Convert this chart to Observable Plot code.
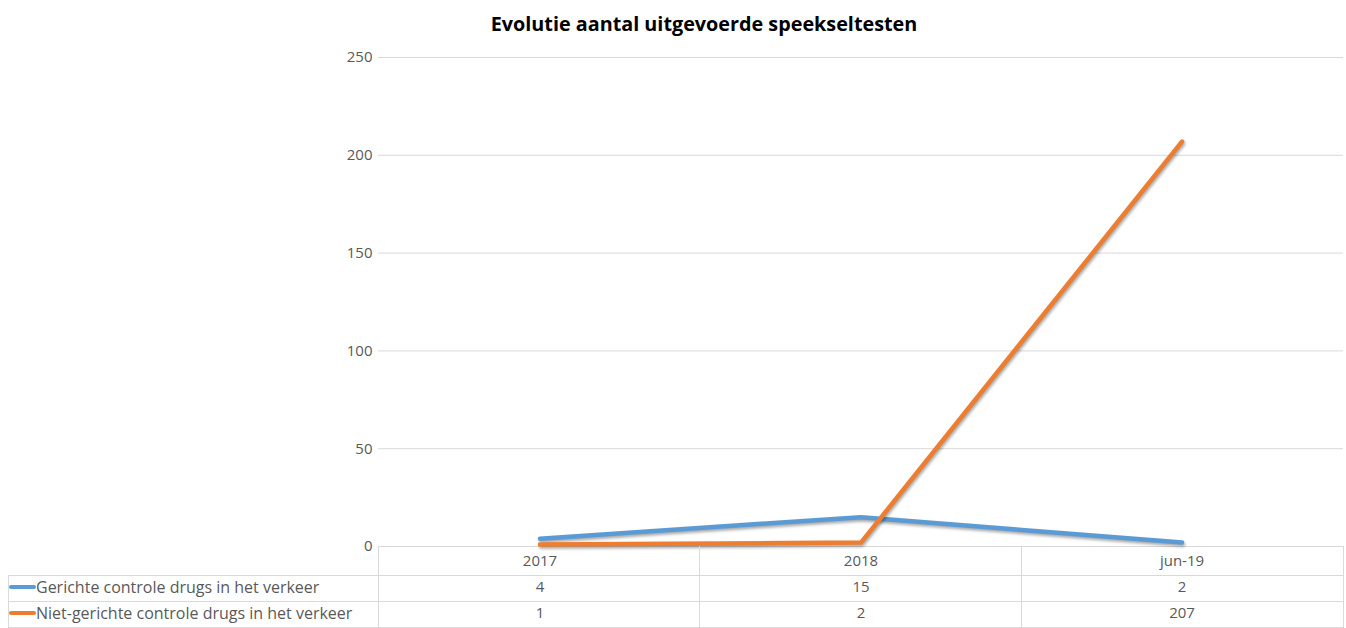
<!DOCTYPE html>
<html><head><meta charset="utf-8">
<script src="https://cdn.jsdelivr.net/npm/d3@7"></script>
<script src="https://cdn.jsdelivr.net/npm/@observablehq/plot@0.6"></script>
<style>
body{margin:0;background:#fff;font-family:"Open Sans",Lato,sans-serif;}
#title{width:1408px;height:40px;box-sizing:border-box;padding-top:12px;text-align:center;font-weight:bold;font-size:19.8px;line-height:23px;color:#000;}
#chart svg{display:block;}
</style></head><body>
<div id="title">Evolutie aantal uitgevoerde speekseltesten</div>
<div id="chart"></div>
<script>
const categories = ["2017", "2018", "jun-19"];
const seriesNames = ["Gerichte controle drugs in het verkeer", "Niet-gerichte controle drugs in het verkeer"];
const gerichte = [4, 15, 2];
const nietGerichte = [1, 2, 207];
const yTicks = [0, 50, 100, 150, 200, 250];
const colors = ["#5B9BD5", "#ED7D31"];

const seriesValues = [gerichte, nietGerichte];
const rows = seriesNames.flatMap((s, si) => categories.map((c, ci) => ({series: s, cat: c, value: seriesValues[si][ci]})));

const W = 1346, H = 588;
const mL = 378, mR = 3, mT = 17, mB = 82;
const textColor = "#595959";
const gridColor = "#d9d9d9";
const fontFam = "'Open Sans', Lato, sans-serif";

const chart = Plot.plot({
  width: W, height: H,
  marginLeft: mL, marginRight: mR, marginTop: mT, marginBottom: mB,
  style: {fontFamily: fontFam, fontSize: "15px", color: textColor, background: "#fff", overflow: "visible"},
  x: {type: "band", domain: categories, padding: 0, axis: null},
  y: {domain: [0, 250], ticks: yTicks, tickSize: 0, tickPadding: 6, label: null, tickFormat: d => String(d)},
  color: {domain: seriesNames, range: colors},
  marks: [
    Plot.ruleY(yTicks, {stroke: gridColor, strokeWidth: 1}),
    Plot.line(rows, {x: "cat", y: "value", z: "series", stroke: "series", strokeWidth: 4.5, strokeLinecap: "round", strokeLinejoin: "round"}),
    Plot.text(categories, {x: d => d, text: d => d, frameAnchor: "bottom", lineAnchor: "middle", dy: 15, fill: textColor}),
    Plot.text(categories.map((c, i) => ({cat: c, v: gerichte[i]})), {x: "cat", text: d => String(d.v), frameAnchor: "bottom", lineAnchor: "middle", dy: 41, fill: textColor}),
    Plot.text(categories.map((c, i) => ({cat: c, v: nietGerichte[i]})), {x: "cat", text: d => String(d.v), frameAnchor: "bottom", lineAnchor: "middle", dy: 67, fill: textColor})
  ]
});
document.getElementById("chart").appendChild(chart);

// shadow on the lines
d3.select(chart).selectAll("path").filter(function(){ return this.getAttribute("stroke-width") === "4.5" || (this.parentNode && this.parentNode.getAttribute("stroke-width") === "4.5"); })
  .style("filter", "drop-shadow(1px 2px 1.5px rgba(0,0,0,0.35))");

// data table borders and legend column
const xs = chart.scale("x");
const step = (xs.range[1] - xs.range[0]) / categories.length;
const y0 = H - mB;
const svg = d3.select(chart);
const g = svg.append("g").attr("stroke", gridColor).attr("stroke-width", 1).attr("shape-rendering", "crispEdges");
const leftX = 8;
const rowB = [y0 + 29, y0 + 55, H - 0.5];
for (let i = 0; i <= categories.length; i++) {
  const x = xs.range[0] + i * step;
  g.append("line").attr("x1", x).attr("x2", x).attr("y1", y0).attr("y2", H);
}
g.append("line").attr("x1", leftX).attr("x2", leftX).attr("y1", rowB[0]).attr("y2", H);
rowB.forEach(y => g.append("line").attr("x1", leftX).attr("x2", xs.range[1]).attr("y1", y).attr("y2", y));

const leg = svg.append("g").attr("text-anchor", "start").attr("font-family", fontFam);
const rowMid = [y0 + 41, y0 + 67];
seriesNames.forEach((s, i) => {
  leg.append("line").attr("x1", 11).attr("x2", 34).attr("y1", rowMid[i]).attr("y2", rowMid[i])
    .attr("stroke", colors[i]).attr("stroke-width", 4).attr("stroke-linecap", "round");
  leg.append("text").attr("x", 36).attr("y", rowMid[i]).attr("dy", "0.35em")
    .attr("fill", textColor).attr("font-size", 16).attr("text-anchor", "start").text(s);
});
</script>
</body></html>
